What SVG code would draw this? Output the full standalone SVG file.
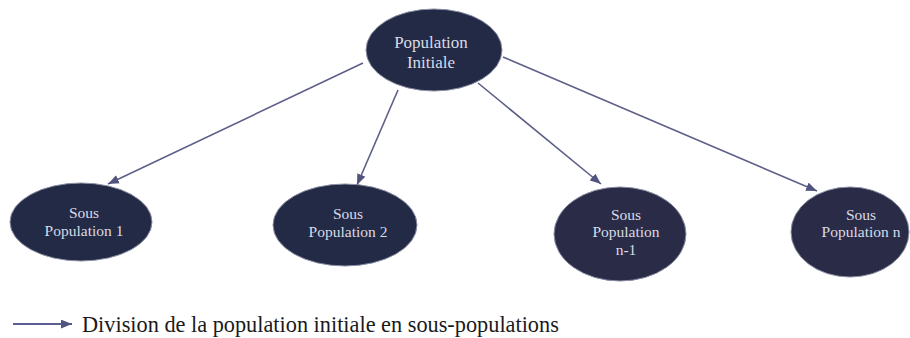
<svg xmlns="http://www.w3.org/2000/svg" width="910" height="338" viewBox="0 0 910 338">
  <defs>
    <marker id="head" viewBox="0 0 10 8" refX="10" refY="4" markerWidth="11" markerHeight="9" markerUnits="userSpaceOnUse" orient="auto">
      <path d="M0,0 L10,4 L0,8 Z" fill="#50547f"/>
    </marker>
    <style>
      .node ellipse { fill: #232a45; stroke: #8a8ea3; stroke-width: 1; }
      .node.muted ellipse { fill: #2a2c47; }
      .node text { fill: #d9dbe6; text-anchor: middle; }
      .top text { font-size: 17px; }
      .sub text { font-size: 15.5px; }
      .edge { stroke: #5c5f88; stroke-width: 1.6; fill: none; marker-end: url(#head); }
      .legend { font-size: 22.3px; fill: #1a1a1a; }
    </style>
  </defs>
  <rect width="910" height="338" fill="#ffffff"/>

  <g id="connectors">
    <line class="edge" x1="363" y1="63" x2="108" y2="184"/>
    <line class="edge" x1="398" y1="90" x2="357" y2="185"/>
    <line class="edge" x1="478" y1="83" x2="601" y2="184"/>
    <line class="edge" x1="503" y1="57" x2="817" y2="191"/>
  </g>

  <g font-family="'Liberation Serif', 'DejaVu Serif', serif">
    <g id="population-initiale" class="node top">
      <ellipse cx="434" cy="50" rx="68" ry="41"/>
      <text x="431" y="48">Population</text>
      <text x="431" y="68">Initiale</text>
    </g>

    <g id="sous-population-1" class="node sub">
      <ellipse cx="81" cy="222" rx="71" ry="39"/>
      <text x="84" y="218">Sous</text>
      <text x="84" y="236">Population 1</text>
    </g>

    <g id="sous-population-2" class="node sub">
      <ellipse cx="345" cy="225" rx="72" ry="41"/>
      <text x="348" y="219">Sous</text>
      <text x="348" y="237">Population 2</text>
    </g>

    <g id="sous-population-n-1" class="node sub muted">
      <ellipse cx="620" cy="234" rx="66" ry="47"/>
      <text x="626" y="220">Sous</text>
      <text x="626" y="237">Population</text>
      <text x="626" y="255">n-1</text>
    </g>

    <g id="sous-population-n" class="node sub muted">
      <ellipse cx="850" cy="232" rx="59" ry="45"/>
      <text x="861" y="220">Sous</text>
      <text x="861" y="237">Population n</text>
    </g>

    <g id="legende">
      <line x1="13" y1="324" x2="72" y2="324" stroke="#5a5e90" stroke-width="2" marker-end="url(#head)"/>
      <text class="legend" x="82" y="332">Division de la population initiale en sous-populations</text>
    </g>
  </g>
</svg>
